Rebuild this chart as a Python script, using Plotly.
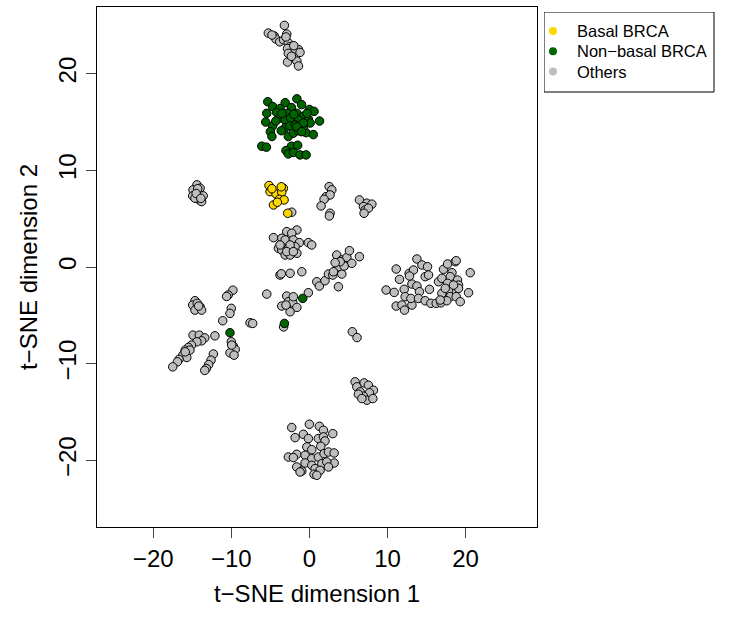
import plotly.graph_objects as go

# t-SNE coordinates, one pair of lists per sample group
others_x = [
    # upper cluster
    -3.2, -5.26, -2.9, -4.5, -4.3, -3.8, -3.3, -2.7, -2.5, -2.8, -1.4, -2.05, -2.7, -1.8, -1.6, -2.8, -1.4, -2.3, -3.0, -4.8, -2.0, -1.2,
    # left cluster near (-14, 7.5)
    -14.4, -14.9, -14.0, -14.95, -14.2, -13.6, -14.1, -14.65, -13.8, -14.3, -14.5, -13.9,
    # small groups near (2.5, 7) and (7, 6)
    2.53, 2.87, 2.14, 2.65, 1.88, 1.5, 2.65, 2.56,
    6.41, 7.36, 8.0, 6.92, 7.14, 7.56, 7.0,
    -2.26,
    # central cluster near (-2.5, 2.5)
    -4.6, -2.9, -1.6, -2.26, -3.54, -3.1, -2.05, -1.28, -3.97, -3.54, -2.7, -1.83, -3.76, -2.47, -3.1, -2.47, -1.6, -0.13, 0.3, -2.9, -2.05,
    -3.76, -3.6, -2.47, -0.97,
    # diagonal chain
    -0.13, 0.95, 1.28, 2.0, 2.44, 3.0, 3.5, 4.15, 3.72, 3.5, 4.15, 4.8, 5.13, 5.44, 4.45, 3.94, 3.3, 6.41, 3.72, 3.08,
    # group near (-2.5, -4)
    -2.9, -3.54, -2.7, -2.13, -1.6, -2.47, -3.0, -2.05, -3.3, -5.46,
    5.5, 6.1,
    # group near (7, -13)
    5.86, 7.01, 7.56, 6.08, 8.2, 6.5, 7.69, 6.92, 7.36, 8.13, 6.28, 6.72,
    # lower cluster
    -2.26, 0.0, 1.28, 1.8, 3.0, -1.83, -0.77, -0.13, 1.15, 1.8, 2.0, -0.33, 0.31, 1.46, -2.69, -1.62, -0.55, 0.31, 1.15, 1.88,
    2.44, 3.17, 3.17, -1.62, -0.97, -0.55, 0.31, 0.73, 1.59, 2.23, 1.37, 0.6, -1.19, 0.95, 2.44, -2.05,
    # right cluster
    11.12, 13.77, 11.54, 9.83, 10.86, 12.14, 13.13, 12.78, 13.33, 12.82, 14.41, 15.13, 14.83, 15.26, 12.27, 11.12, 11.85, 12.18,
    13.13, 13.0, 13.77, 14.1, 13.97, 14.83, 15.56, 16.24, 16.85, 15.38, 16.54, 17.18, 17.7, 18.68, 18.8, 18.26, 18.04, 16.97,
    17.7, 18.97, 19.1, 18.68, 17.82, 16.97, 18.04, 18.8, 19.32, 17.6, 20.6, 20.38, 17.4, 19.1, 16.76, 18.46,
    # left lower region
    -14.65, -14.95, -14.36, -14.0, -14.65, -13.8, -14.18,
    -9.8, -10.4, -10.6, -10.0, -10.17, -11.1, -7.6, -7.26, -12.1,
    -14.9, -14.1, -13.4, -13.8, -14.4, -15.1, -15.5, -15.9, -15.3, -16.2, -15.7, -16.7, -16.9, -17.5, -15.9,
    -12.3, -12.6, -12.9, -13.2, -13.4,
    -10.0, -9.74, -9.5, -10.17, -9.65, -9.95,
]
others_y = [
    25.0, 24.2, 24.1, 23.9, 23.6, 23.3, 23.5, 23.2, 22.8, 22.6, 22.5, 22.3, 22.1, 21.7, 21.3, 21.2, 20.8, 21.8, 23.8, 24.0, 22.9, 22.2,
    8.5, 7.98, 8.15, 7.36, 7.56, 7.36, 6.94, 7.12, 6.77, 8.1, 7.6, 7.1,
    8.32, 7.98, 7.28, 7.46, 7.0, 6.32, 5.56, 5.28,
    6.94, 6.6, 6.5, 6.25, 5.9, 6.08, 5.56,
    5.67,
    3.04, 3.66, 3.83, 3.49, 2.97, 2.8, 2.8, 2.52, 1.94, 1.76, 1.94, 2.1, 2.28, 2.28, 1.24, 1.24, 1.42, 2.52, 2.28, 1.59, 1.59,
    -0.83, -0.7, -0.65, -0.49,
    -2.66, -1.52, -1.97, -1.42, -0.73, -0.83, -0.31, -0.73, 0.03, 1.24, 0.73, 1.0, 1.69, 0.38, 0.1, 0.55, 0.45, 1.07, -2.04, -0.49,
    -3.0, -4.04, -3.6, -3.7, -4.18, -4.63, -3.94, -3.08, -6.2, -2.8,
    -6.7, -7.3,
    -11.88, -11.99, -12.23, -12.4, -12.75, -12.92, -13.02, -13.37, -13.78, -13.61, -13.16, -13.61,
    -16.61, -16.27, -16.48, -16.89, -17.24, -17.65, -17.31, -17.75, -17.75, -17.58, -18.0, -18.62, -18.9, -18.55, -19.66, -19.38,
    -19.48, -19.83, -19.66, -19.31, -19.14, -19.24, -20.28, -20.69, -21.11, -20.28, -20.52, -20.86, -20.35, -20.17, -21.04, -21.45,
    -21.21, -21.55, -20.69, -19.72,
    -0.21, 0.83, -1.28, -2.38, -2.63, -2.31, -1.76, -0.66, -0.31, -0.93, 0.21, 0.03, -1.0, -0.83, -3.07, -4.04, -3.94, -4.46,
    -3.94, -3.25, -1.97, -2.56, -3.25, -3.49, -3.76, -3.76, -3.7, -2.31, -1.52, -0.24, 0.31, 0.55, 0.65, -0.59, -1.0, -1.17,
    -1.69, -1.35, -1.87, -2.38, -2.38, -2.73, -3.07, -3.07, -3.59, -3.49, -0.59, -2.66, -2.21, -2.21, -3.42, -1.87,
    -3.49, -3.94, -3.76, -4.11, -4.46, -4.46, -4.04,
    -2.4, -2.9, -3.05, -4.28, -4.8, -5.56, -5.77, -5.84, -7.12,
    -7.05, -7.05, -7.33, -7.64, -7.74, -8.08, -8.32, -8.6, -8.6, -9.12, -9.36, -9.56, -9.81, -10.33, -8.78,
    -9.0, -9.64, -10.1, -10.5, -10.7,
    -7.74, -8.19, -8.53, -8.88, -9.12, -8.08,
]

nonbasal_x = [
    -5.33, -1.6, -3.1, -4.7, -3.75, -2.3, -1.0, 0.0, 0.6, -5.46, -4.2, -2.8, -1.6, -0.77, 1.3, -5.6, -4.7, -3.85, -3.1, -2.4,
    -1.4, -0.13, 0.1, -5.0, -3.1, -2.5, -1.8, -1.2, -0.42, 0.5, -4.8, -2.7, -2.05, -1.4, -6.1, -5.5, -2.3, -1.5, -3.0, -2.7,
    -2.05, -1.2, -0.42, -0.77, -3.6, -4.3, -0.77, -1.6, -2.0, -1.0, -3.5, -0.3,
    -0.85, -3.2, -10.17,
]
nonbasal_y = [
    17.1, 17.4, 17.0, 16.6, 16.4, 16.5, 16.8, 16.3, 16.1, 15.9, 16.0, 15.9, 15.9, 15.6, 15.1, 15.0, 14.6, 15.4, 15.2, 15.4,
    15.2, 15.3, 14.9, 14.0, 14.4, 14.6, 14.7, 14.3, 13.9, 13.7, 13.5, 13.5, 13.85, 14.1, 12.5, 12.4, 12.5, 12.6, 12.05, 11.7,
    11.85, 11.6, 11.6, 14.5, 14.1, 15.1, 14.9, 14.5, 15.8, 14.0, 15.9, 15.9,
    -3.25, -5.84, -6.8,
]

basal_x = [-5.17, -3.33, -5.04, -4.27, -3.54, -3.85, -3.24, -4.6, -4.1, -2.77, -4.8, -3.6]
basal_y = [8.43, 8.15, 7.8, 7.56, 7.74, 7.0, 6.94, 6.42, 6.7, 5.56, 8.1, 8.3]

group_names = ["Basal BRCA", "Non\u2212basal BRCA", "Others"]
group_colors = ["#FFD700", "#006400", "#BEBEBE"]

FONT = "Liberation Sans, Arial, Helvetica, sans-serif"
W, H = 729, 619

# plot panel and key box, in pixels
PANEL = dict(left=97, right=537, top=7, bottom=527)
KEY = dict(left=544, right=714, top=12, bottom=92)
KEY_ROW = 20.3
KEY_FIRST = 31

fig = go.Figure()

# points: grey first, coloured groups on top
for gx, gy, col in [(others_x, others_y, group_colors[2]),
                    (nonbasal_x, nonbasal_y, group_colors[1]),
                    (basal_x, basal_y, group_colors[0])]:
    fig.add_trace(go.Scatter(
        x=gx, y=gy, mode="markers", showlegend=False, hoverinfo="skip",
        xaxis="x", yaxis="y",
        marker=dict(size=8.5, color=col, line=dict(color="black", width=1)),
    ))

# key: symbols on an overlay axis measured in pixels
key_rows = [KEY_FIRST + i * KEY_ROW for i in range(len(group_names))]
fig.add_trace(go.Scatter(
    x=[KEY["left"] + 9] * len(group_names), y=key_rows,
    mode="markers", showlegend=False, hoverinfo="skip",
    xaxis="x2", yaxis="y2",
    marker=dict(size=8, color=group_colors, line=dict(width=0)),
))
for name, yy in zip(group_names, key_rows):
    fig.add_annotation(
        x=KEY["left"] + 31, y=yy, xref="x2", yref="y2", text=name,
        showarrow=False, xanchor="left", yanchor="middle",
        font=dict(family=FONT, size=16.5, color="black"),
    )
fig.add_shape(
    type="rect", xref="x2", yref="y2",
    x0=KEY["left"], x1=KEY["right"], y0=KEY["top"], y1=KEY["bottom"],
    line=dict(color="black", width=1), fillcolor="rgba(0,0,0,0)",
)

axis_common = dict(
    showgrid=False, zeroline=False, automargin=False,
    showline=True, linecolor="black", linewidth=1, mirror=True,
    ticks="outside", ticklen=10, tickcolor="#444", tickwidth=1,
    tickfont=dict(family=FONT, size=24, color="black"),
)

fig.update_layout(
    width=W, height=H,
    margin=dict(l=0, r=0, t=0, b=0),
    paper_bgcolor="white", plot_bgcolor="white",
    font=dict(family=FONT, color="black"),
    showlegend=False,
    xaxis=dict(
        domain=[PANEL["left"] / W, PANEL["right"] / W],
        range=[-27.2, 29.15], tickvals=[-20, -10, 0, 10, 20],
        title=dict(text="t\u2212SNE dimension 1", font=dict(family=FONT, size=24), standoff=14),
        **axis_common,
    ),
    yaxis=dict(
        domain=[1 - PANEL["bottom"] / H, 1 - PANEL["top"] / H],
        range=[-26.9, 26.9], tickvals=[-20, -10, 0, 10, 20], tickangle=-90,
        title=dict(text="t\u2212SNE dimension 2", font=dict(family=FONT, size=24), standoff=10),
        **axis_common,
    ),
    xaxis2=dict(
        domain=[KEY["left"] / W, (KEY["right"] + 1) / W],
        range=[KEY["left"], KEY["right"] + 1], visible=False, fixedrange=True,
    ),
    yaxis2=dict(
        domain=[1 - (KEY["bottom"] + 1) / H, 1 - KEY["top"] / H],
        range=[KEY["bottom"] + 1, KEY["top"]], visible=False, fixedrange=True,
        anchor="x2",
    ),
)
fig.update_layout(xaxis2_anchor="y2")

fig.write_html("out.html")
